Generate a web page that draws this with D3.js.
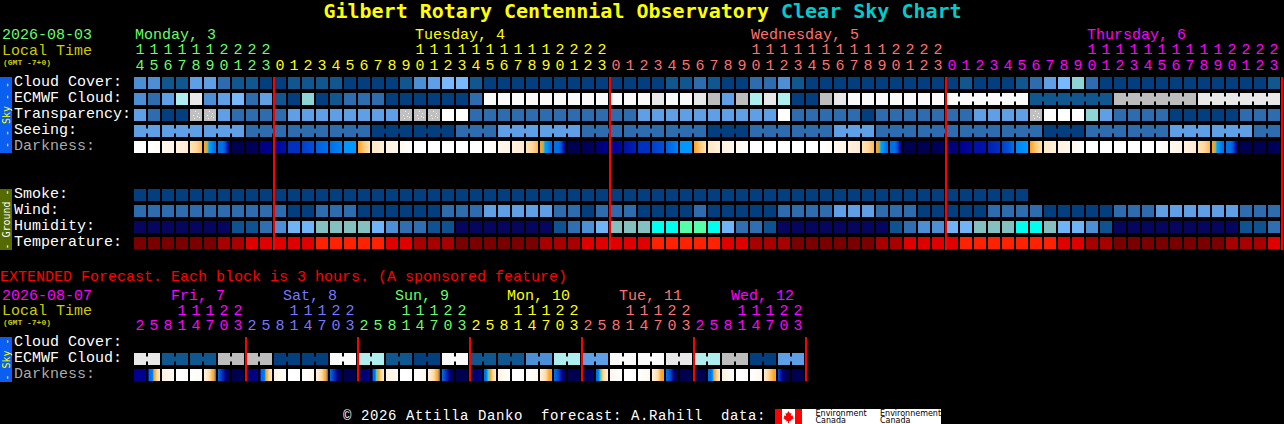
<!DOCTYPE html>
<html>
<head>
<meta charset="utf-8">
<script src="https://cdn.jsdelivr.net/npm/d3@7"></script>
<style>
html,body{margin:0;padding:0;background:#000;overflow:hidden}
svg{display:block}
text{font-family:"Liberation Mono",monospace;font-size:15px;white-space:pre}
</style>
</head>
<body>
<svg id="c" width="1284" height="424"></svg>
<script>
// ---------- labels ----------
const titleMain = "Gilbert Rotary Centennial Observatory ";
const titleTail = "Clear Sky Chart";
const dateMain = "2026-08-03";
const dateExt = "2026-08-07";
const tzLabel = "(GMT -7+0)";
const extNote = "EXTENDED Forecast. Each block is 3 hours. (A sponsored feature)";
const footer = "\u00a9 2026 Attilla Danko  forecast: A.Rahill  data:";
const skyRows = ["Cloud Cover:","ECMWF Cloud:","Transparency:","Seeing:","Darkness:"];
const groundRows = ["Smoke:","Wind:","Humidity:","Temperature:"];
const extRows = ["Cloud Cover:","ECMWF Cloud:","Darkness:"];
const dayNames = ["Monday, 3","Tuesday, 4","Wednesday, 5","Thursday, 6"];
const dayFirstColumn = [0,10,34,58];
const dayNameColumn = [0,20,44,68];
const dayColors = ["#66ff66","#ffff00","#ff7070","#ff00ff"];
const extDayNames = ["Fri, 7","Sat, 8","Sun, 9","Mon, 10","Tue, 11","Wed, 12"];
const extDayColors = ["#ff00ff","#7777ff","#66ff66","#ffff00","#ff7070","#ff00ff"];
const hours = [14,15,16,17,18,19,20,21,22,23,
  0,1,2,3,4,5,6,7,8,9,10,11,12,13,14,15,16,17,18,19,20,21,22,23,
  0,1,2,3,4,5,6,7,8,9,10,11,12,13,14,15,16,17,18,19,20,21,22,23,
  0,1,2,3,4,5,6,7,8,9,10,11,12,13,14,15,16,17,18,19,20,21,22,23];
const extHours = [2,5,8,11,14,17,20,23,2,5,8,11,14,17,20,23,2,5,8,11,14,17,20,23,
  2,5,8,11,14,17,20,23,2,5,8,11,14,17,20,23,2,5,8,11,14,17,20,23];

// ---------- series (category level of each block) ----------
const cloudCover = [3,3,1,1,4,4,2,1,1,0, 0,1,1,1,1,0,0,0,0,1, 3,4,5,5,1,0,0,0,0,0,
  0,0,0,0,0,0,0,0,1,1, 2,1,0,0,2,2,3,1,0,0, 0,0,0,0,0,0,0,0,0,1, 0,0,0,1,2,4,5,6,2,0,
  0,0,0,0,0,0,0,0,0,0, 0,1];
const ecmwfCloud = [3,2,4,7,8,3,4,5,2,4, 1,0,6,0,1,2,2,2,0,0, 0,0,0,0,2,9,9,9,9,9,
  9,9,9,9,9,9,9,8,9,9, 8,10,4,10,7,8,7,0,0,10, 8,9,9,9,9,9,9,9,9,9, 9,9,9,9,1,1,1,1,1,1,
  10,10,10,10,10,10,8,8,8,8, 8,8];
const transparency = [4,2,0,0,12,12,4,2,2,2, 2,4,4,4,4,4,4,4,4,12, 12,12,11,11,2,2,2,2,2,2,
  2,2,2,2,2,2,4,4,4,4, 4,4,4,4,4,4,11,2,2,2, 2,2,0,2,2,2,2,2,2,2, 4,4,4,4,12,11,11,11,6,4,
  2,2,2,2,0,0,0,0,0,2, 2,2];
const seeing = [4,4, 4,4,4, 4,4,4, 2,2,2, 2,2,2, 2,2,2, 0,0,0, 0,0,0, 2,2,2, 4,4,4, 4,4,4,
  2,2,2, 2,2,2, 2,2,2, 0,0,0, 2,2,2, 2,2,2, 4,4,4, 2,2,2, 2,2,2, 2,2,2, 2,2,2,
  0,0,0, 2,2,2, 2,2,2, 4,4,4, 4,4,4, 2,2];
const darkness = [[0,0],[0,.3],[.7,1.2],[1.4,2],[2.5,3,4],[5,5,6,7,7,7.5,8,8],[8,8,8,9,11,13],[14,14],[14,13.5],[12.5,12],
  [11.5,11],[10,10],[9.5,9],[8.5,8],[8,7.5],[7,7],[5,3.5,2.5],[2.2,1.6],[1.4,1],[.7,.2],
  [0,0],[0,0],[0,0],[0,0],[0,0],[0,.3],[.7,1.2],[1.4,2],[2.5,3,4],[5,5,6,7,7,7.5,8,8],
  [8,8,8,9,11,13],[14,14],[14,13.5],[13,12],[12,11.5],[11,10.5],[10,10],[9.5,9],[8.5,8,7.5],[7,7],
  [5,3.5,2.5],[2.2,1.6],[1.4,1],[.7,.2],[0,0],[0,0],[0,0],[0,0],[0,0],[0,.3],
  [.7,1.2],[1.4,2],[2.5,3,4],[5,5,6,7,7,7.5,8,8],[8,8,8,9,11,13],[14,14],[14,14],[14,13.5],[13,12.5],[12,11.5],
  [11,11],[10.5,10],[9.5,9,8],[7.5,7],[5,3.5,2.5],[2.2,1.6],[1.4,1],[.7,.2],[0,0],[0,0],
  [0,0],[0,0],[0,0],[0,.3],[.7,1.2],[1.4,2],[2.5,3,4],[5,5,6,7,7,7.5,8,8],[8,8,8,9,11,13],[14,14],
  [14,14],[14,13.5]];
const smoke = [0,0,0,0,0,0,0,0,0,0, 0,0,0,0,0,0,0,0,0,0, 0,0,0,0,0,0,0,0,0,0,
  0,0,0,0,0,0,0,0,0,0, 0,0,0,0,0,0,0,0,0,0, 0,0,0,0,0,0,0,0,0,0, 0,0,0,0];
const wind = [2,2,2,2,2,2,2,2,2,2, 2,0,0,2,2,2,0,0,0,0, 0,0,2,2,2,4,4,4,4,4,
  2,2,0,2,2,2,0,0,0,0, 2,0,0,0,0,0,2,2,2,2, 4,4,4,2,2,2,0,0,0,0, 0,2,2,2,2,0,0,0,0,0,
  2,2,2,4,4,4,4,4,4,2, 2,2];
const humidity = [0,0,0,0,0,0,0,1,1,2, 3,4,4,5,5,5,5,4,3,2, 2,1,1,0,0,0,0,0,0,0,
  1,2,3,4,5,5,5,6,6,7, 7,6,4,2,2,1,0,0,0,0, 0,0,0,0,1,2,3,3,4,4, 5,5,5,6,6,5,4,4,3,1,
  0,0,0,0,0,0,0,0,0,1, 1,2];
const temperature = [0,0,0,0,0,0,1,1,2,2, 2,2,2,3,3,3,3,3,2,2, 1,1,1,0,0,0,0,0,0,1,
  1,1,2,2,2,2,2,3,3,3, 3,3,2,2,1,1,1,0,0,0, 0,0,0,1,1,2,2,2,2,3, 3,3,3,3,3,3,2,2,1,1,
  0,0,0,0,0,0,0,0,1,1, 1,2];
const extEcmwf = [8,8,1,1,1,1,10,10,10,10,0,0,0,0,9,9,7,7,1,1,0,0,9,9,
  1,1,1,1,3,3,7,7,4,4,9,9,9,9,8,8,7,7,10,10,0,0,4,4];
const extDarkness = [[12,12],[12,8,8,7.5,5,4,3,2.5,2],[1.6,1,.5],[0,0],[0,.6],[1.5,2,2.5,3,4,5,8],[8,10,13,14],[14,14],
  [13,12],[12,8,8,7.5,5,4,3,2.5,2],[1.4,.6,0],[0,0],[0,.8],[1.5,2,2.5,3,4,5,8],[8,10,13,14],[14,14],
  [14,13,12],[12,8,8,6,5,4,3,2.5,2],[1.5,1,.3],[0,0],[0,.8],[1.5,2,2.5,3,4,5,8],[8,10,13,14],[14,14],
  [14,12],[8,8,7,6,5,4,3,2.5,2],[1.4,.6,0],[0,0],[0,.8],[1.5,2,2.5,3,4,5,5],[8,9,12,14],[14,14],
  [14,13],[8,8,7,6,4,3,2.5,2,1.5],[1,.5,0],[0,0],[0,.8],[1.5,2,2.5,3,4,5,5],[8,9,13,14],[14,14],
  [14,14],[8,8,8,7,5,4,3,2.5,2],[1.4,.6,0],[0,0],[0,1],[2,2.5,3,3.5,4,5,5],[9,12,14,14],[14,14]];

// ---------- palettes ----------
const skyPalette = ["#033e7e","#10568f","#2d6cae","#4d8fd4","#5f9fe5","#78b8fc","#8fd4d4","#afeeee","#e8e8e8","#fafafa","#bdbdbd","#ffffff","url(#dots)"];
const humidityPalette = ["#06065f","#0f5292","#2f6fb1","#4d8fd4","#70b4f8","#85c0c0","#00ffee","#55ffaa"];
const temperaturePalette = ["#7a0000","#a80000","#e00000","#ff2200"];
const darkRamp = ["#ffffff","#fff6ea","#ffecd0","#ffd9a0","#ffb850","#ffa020","#60c8a0","#0098ff","#0070e8","#0050d8","#0030c0","#0010a8","#000090","#000070","#000050"];

// ---------- scales ----------
const COL = 14, BLOCK = 12, X0 = 134;
const x = d3.scaleLinear().domain([0,82]).range([X0,X0+82*COL]);
const xe = d3.scaleLinear().domain([0,48]).range([X0,X0+48*COL]);
const yTop = d3.scaleLinear().domain([0,1]).range([77,93]);
const yGround = d3.scaleLinear().domain([0,1]).range([189,205]);
const yExt = d3.scaleLinear().domain([0,1]).range([337,353]);
const skyColor = d3.scaleOrdinal(d3.range(skyPalette.length),skyPalette);
const humColor = d3.scaleOrdinal(d3.range(humidityPalette.length),humidityPalette);
const tempColor = d3.scaleOrdinal(d3.range(temperaturePalette.length),temperaturePalette);
const dark = d3.scaleLinear().domain(d3.range(darkRamp.length)).range(darkRamp).clamp(true);

const svg = d3.select("#c");
const defs = svg.append("defs");
const dots = defs.append("pattern").attr("id","dots").attr("width",14).attr("height",16)
  .attr("patternUnits","userSpaceOnUse").attr("x",134).attr("y",109);
dots.append("rect").attr("width",14).attr("height",16).attr("fill","#c0c0c0");
dots.selectAll("rect.d").data([[5,2],[8,4],[3,6],[7,7],[9,8],[4,9]]).join("rect").attr("class","d")
  .attr("x",d=>d[0]).attr("y",d=>d[1]).attr("width",1).attr("height",1).attr("fill","#f4f4f4");

svg.append("rect").attr("width",1284).attr("height",424).attr("fill","#000");

function txt(s,px,py,fill,opt={}){
  return svg.append("text").attr("x",px).attr("y",py).attr("fill",fill)
    .attr("text-anchor",opt.anchor||"start")
    .style("font-size",opt.size?opt.size+"px":null)
    .style("font-family",opt.family||null)
    .style("font-weight",opt.weight||null)
    .style("letter-spacing",opt.spacing||null)
    .attr("transform",opt.transform||null)
    .text(s);
}

// title
const t = svg.append("text").attr("x",642.5).attr("y",18).attr("text-anchor","middle")
  .style("font-family","'DejaVu Sans Mono'").style("font-weight","bold").style("font-size","20px");
t.append("tspan").attr("fill","#ffff00").text(titleMain);
t.append("tspan").attr("fill","#00cccc").text(titleTail);

// blocks
function blocks(values,scale,y,color,groupOf){
  const g = svg.append("g");
  g.selectAll("rect.b").data(values).join("rect").attr("class","b")
    .attr("x",(v,i)=>scale(i)).attr("y",y).attr("width",BLOCK).attr("height",BLOCK)
    .attr("fill",v=>color(v));
  if(groupOf){
    const links = d3.range(values.length-1).filter(i=>groupOf(i)!==null&&groupOf(i)===groupOf(i+1));
    g.selectAll("rect.l").data(links).join("rect").attr("class","l")
      .attr("x",i=>scale(i)+BLOCK).attr("y",y+3.5).attr("width",COL-BLOCK).attr("height",5)
      .attr("fill",i=>color(values[i]));
  }
}
function darkBlocks(values,scale,y,prefix){
  const grads = defs.selectAll("linearGradient."+prefix).data(values).join("linearGradient")
    .attr("class",prefix).attr("id",(d,i)=>prefix+i);
  grads.selectAll("stop").data(d=>d.map((v,k)=>({v,o:k/(d.length-1)}))).join("stop")
    .attr("offset",d=>d.o).attr("stop-color",d=>dark(d.v));
  svg.append("g").selectAll("rect").data(values).join("rect")
    .attr("x",(v,i)=>scale(i)).attr("y",y).attr("width",BLOCK).attr("height",BLOCK)
    .attr("fill",(v,i)=>`url(#${prefix}${i})`);
}
blocks(cloudCover,x,yTop(0),skyColor);
blocks(ecmwfCloud,x,yTop(1),skyColor,i=>i>=58?Math.floor((i-58)/6):null);
blocks(transparency,x,yTop(2),skyColor);
blocks(seeing,x,yTop(3),skyColor,i=>Math.floor((i+1)/3));
darkBlocks(darkness,x,yTop(4),"dm");
blocks(smoke,x,yGround(0),skyColor);
blocks(wind,x,yGround(1),skyColor);
blocks(humidity,x,yGround(2),humColor);
blocks(temperature,x,yGround(3),tempColor);
blocks(extEcmwf,xe,yExt(1),skyColor,i=>Math.floor(i/2));
darkBlocks(extDarkness,xe,yExt(2),"de");

// row labels
svg.append("g").selectAll("text").data(skyRows).join("text")
  .attr("x",14).attr("y",(d,i)=>yTop(i)+9).text(d=>d)
  .attr("fill",d=>d==="Darkness:"?"#aaaaaa":"#ffffff");
svg.append("g").selectAll("text").data(groundRows).join("text")
  .attr("x",14).attr("y",(d,i)=>yGround(i)+9).text(d=>d).attr("fill","#ffffff");
svg.append("g").selectAll("text").data(extRows).join("text")
  .attr("x",14).attr("y",(d,i)=>yExt(i)+9).text(d=>d)
  .attr("fill",d=>d==="Darkness:"?"#aaaaaa":"#ffffff");

// header text
txt(dateMain,2,39,"#66ff66");
txt("Local Time",2,55,"#cccc00");
txt(tzLabel,3,65,"#cccc00",{size:8,weight:"bold"});
dayNames.forEach((d,i)=>txt(d,x(dayNameColumn[i])+1,39,dayColors[i]));
const dayOfCol = i=>d3.bisectRight(dayFirstColumn,i)-1;
svg.append("g").selectAll("text").data(hours).join("text")
  .attr("x",(h,i)=>x(i)+6).attr("y",70).attr("text-anchor","middle")
  .attr("fill",(h,i)=>dayColors[dayOfCol(i)]).text(h=>h%10);
svg.append("g").selectAll("text").data(hours).join("text")
  .attr("x",(h,i)=>x(i)+6).attr("y",54).attr("text-anchor","middle")
  .attr("fill",(h,i)=>dayColors[dayOfCol(i)]).text(h=>h>=10?Math.floor(h/10):"");

// extended header
txt(extNote,0,281,"#ff0000");
txt(dateExt,2,300,"#ff00ff");
txt("Local Time",2,315,"#cccc00");
txt(tzLabel,3,325,"#cccc00",{size:8,weight:"bold"});
extDayNames.forEach((d,i)=>txt(d,xe(i*8)+37,300,extDayColors[i]));
svg.append("g").selectAll("text").data(extHours).join("text")
  .attr("x",(h,i)=>xe(i)+6).attr("y",330).attr("text-anchor","middle")
  .attr("fill",(h,i)=>extDayColors[Math.floor(i/8)]).text(h=>h%10);
svg.append("g").selectAll("text").data(extHours).join("text")
  .attr("x",(h,i)=>xe(i)+6).attr("y",315).attr("text-anchor","middle")
  .attr("fill",(h,i)=>extDayColors[Math.floor(i/8)]).text(h=>h>=10?Math.floor(h/10):"");

// side bars
function sideBar(y0,y1,fill,label,color){
  svg.append("rect").attr("x",0).attr("y",y0).attr("width",12).attr("height",y1-y0).attr("fill",fill);
  const cy=(y0+y1)/2;
  txt(label,0,0,color,{size:10,anchor:"middle",family:"'DejaVu Sans Mono'",transform:`translate(9.5,${cy}) rotate(-90)`});
}
sideBar(77,153,"#0a5ff0","- - Sky - -","#ffff00");
sideBar(189,250,"#556b00","- Ground -","#ffffff");
sideBar(337,382,"#0a5ff0","- Sky -","#ffff00");

// red day separators
svg.append("g").selectAll("rect").data([10,34,58,82]).join("rect")
  .attr("x",d=>x(d)-1).attr("y",77).attr("width",2).attr("height",173).attr("fill","#ff0000");
svg.append("g").selectAll("rect").data([8,16,24,32,40,48]).join("rect")
  .attr("x",d=>xe(d)-1).attr("y",337).attr("width",2).attr("height",44).attr("fill","#ff0000");

// footer
txt(footer,343,419.5,"#ffffff",{size:14,spacing:"0.6px"});
const logo = svg.append("g");
logo.append("rect").attr("x",775).attr("y",409).attr("width",166).attr("height",15).attr("fill","#fff");
logo.append("rect").attr("x",775).attr("y",409).attr("width",7).attr("height",15).attr("fill","#ff0000");
logo.append("rect").attr("x",795).attr("y",409).attr("width",7).attr("height",15).attr("fill","#ff0000");
const leaf = [[788.5,411],[790,413.5],[791.5,413],[791,416],[793,415.5],[792.8,417.5],[794,418],[790.5,420.5],[791,421.5],[789,421],[789,423],[788,423],[788,421],[786,421.5],[786.5,420.5],[783,418],[784.2,417.5],[784,415.5],[786,416],[785.5,413],[787,413.5]];
logo.append("path").attr("d",d3.line()(leaf)+"Z").attr("fill","#ff0000");
[["Environment",815.5,416],["Canada",815.5,422.5],["Environnement",880,416],["Canada",880,422.5]].forEach(a=>{
  txt(a[0],a[1],a[2],"#000",{size:8,family:"'DejaVu Sans'"});
});

[cloudCover,ecmwfCloud,transparency,seeing,darkness,wind,humidity,temperature,hours].forEach((a,i)=>{
  if(a.length!==82) throw new Error("len "+i+" = "+a.length);
});
if(smoke.length!==64||extEcmwf.length!==48||extDarkness.length!==48||extHours.length!==48) throw new Error("ext len");
</script>
</body>
</html>
